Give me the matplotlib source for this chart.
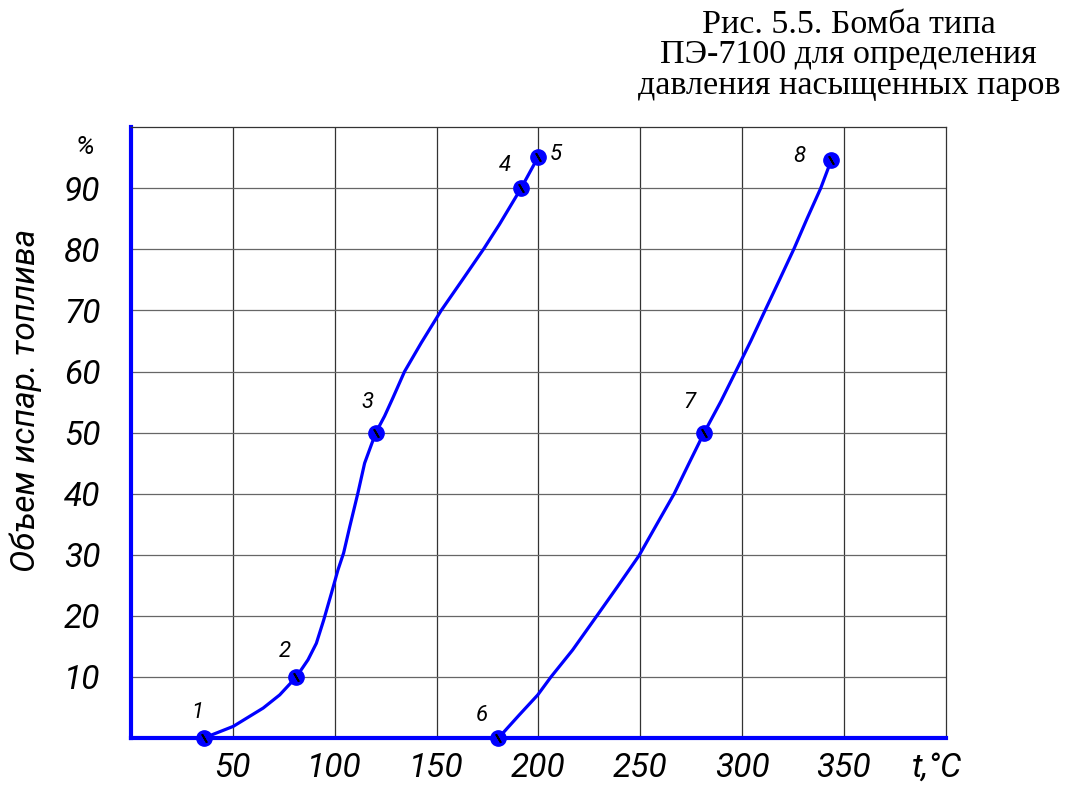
import numpy as np
import matplotlib.pyplot as plt

# traced curve 1-5 (temperature, % evaporated)
curve1_t = [35.8, 50.2, 64.9, 73.0, 81.2, 86.9, 91.0, 94.6, 98.4, 101.6, 104.4, 107.4,
            111.4, 114.7, 120.2, 124.5, 128.6, 134.3, 142.5, 152.3, 162.9, 173.2,
            180.9, 191.5, 200]
curve1_v = [0, 1.9, 4.9, 7.05, 10, 12.8, 15.5, 19.3, 23.7, 27.5, 30.3, 34.6,
            40.1, 45, 50, 52.7, 55.7, 60, 64.7, 70, 75.1, 80.1,
            84.1, 90, 95.2]

# traced curve 6-8
curve2_t = [180.4, 190.7, 199.7, 206.2, 216.8, 228.3, 238.9, 249.5, 258.5, 266.7, 274,
            281.4, 289.6, 296.9, 304.3, 311.3, 318.5, 325.5, 332, 338.6, 343.8]
curve2_v = [0, 3.8, 7.05, 10, 14.4, 19.8, 24.8, 29.9, 35.2, 40, 45,
            50, 55.1, 60, 65, 70, 75.1, 80.1, 85.1, 90, 94.6]

# labelled points
pt_names = ['1', '2', '3', '4', '5', '6', '7', '8']
pt_t = [35.8, 81.2, 120.2, 191.5, 200, 180.4, 281.4, 343.8]
pt_v = [0, 10, 50, 90, 95.2, 0, 50, 94.6]
pt_off = [(-7, 25), (-12, 25), (-8, 30), (-16, 23), (17, 2), (-17, 22), (-15, 30), (-32, 4)]

x_ticks = [50, 100, 150, 200, 250, 300, 350]
y_ticks = [10, 20, 30, 40, 50, 60, 70, 80, 90]

narrow = ['Roboto', 'DejaVu Sans']
blue = '#0000ff'

fig = plt.figure(figsize=(10.65, 7.85), dpi=100)
ax = fig.add_axes([0.123, 0.0599, 0.765, 0.778])
ax.set_xlim(0, 400)
ax.set_ylim(0, 100)

# grid
for x in x_ticks:
    ax.axvline(x, color='#333333', lw=0.9, zorder=1)
for y in y_ticks:
    ax.axhline(y, color='#666666', lw=0.9, zorder=1)

ax.plot(curve1_t, curve1_v, color=blue, lw=2.3, zorder=3, clip_on=False,
        solid_joinstyle='round')
ax.plot(curve2_t, curve2_v, color=blue, lw=2.3, zorder=3, clip_on=False,
        solid_joinstyle='round')
ax.plot(pt_t, pt_v, 'o', ms=11, mfc=blue, mec=blue, zorder=4, clip_on=False, ls='none')
ax.plot(pt_t, pt_v, marker=(2, 2, 30), ms=7, color='black', mew=1.3, zorder=5,
        clip_on=False, ls='none')

for name, t, v, off in zip(pt_names, pt_t, pt_v, pt_off):
    ax.annotate(name, (t, v), xytext=off, textcoords='offset pixels',
                ha='center', va='center', fontsize=16, style='italic',
                family=narrow, color='black')

for s in ['left', 'bottom']:
    ax.spines[s].set_color(blue)
    ax.spines[s].set_linewidth(3)
for s in ['top', 'right']:
    ax.spines[s].set_color('#333333')
    ax.spines[s].set_linewidth(0.9)

ax.set_xticks(x_ticks)
ax.set_yticks(y_ticks)
ax.tick_params(length=0)
ax.tick_params(axis='x', pad=10)
ax.tick_params(axis='y', pad=22)
for lab in ax.get_xticklabels() + ax.get_yticklabels():
    lab.set_fontsize(24)
    lab.set_style('italic')
    lab.set_color('black')
    lab.set_family(narrow)

ax.text(395.5, -2.2, 't,°C', ha='center', va='top', fontsize=24, style='italic',
        family=narrow, clip_on=False)
ax.text(-22.5, 96.7, '%', ha='center', va='center', fontsize=19, style='italic',
        family=narrow, clip_on=False)
ax.text(-51.5, 55.3, 'Объем испар. топлива', rotation=90, ha='center', va='center',
        fontsize=24, style='italic', family=narrow, clip_on=False)

fig.text(0.797, 0.988, 'Рис. 5.5. Бомба типа\nПЭ-7100 для определения\nдавления насыщенных паров',
         ha='center', va='top', multialignment='center', fontsize=24.5,
         family=['Liberation Serif', 'DejaVu Serif'], linespacing=1.0)

fig.savefig('out.png', dpi=100)
